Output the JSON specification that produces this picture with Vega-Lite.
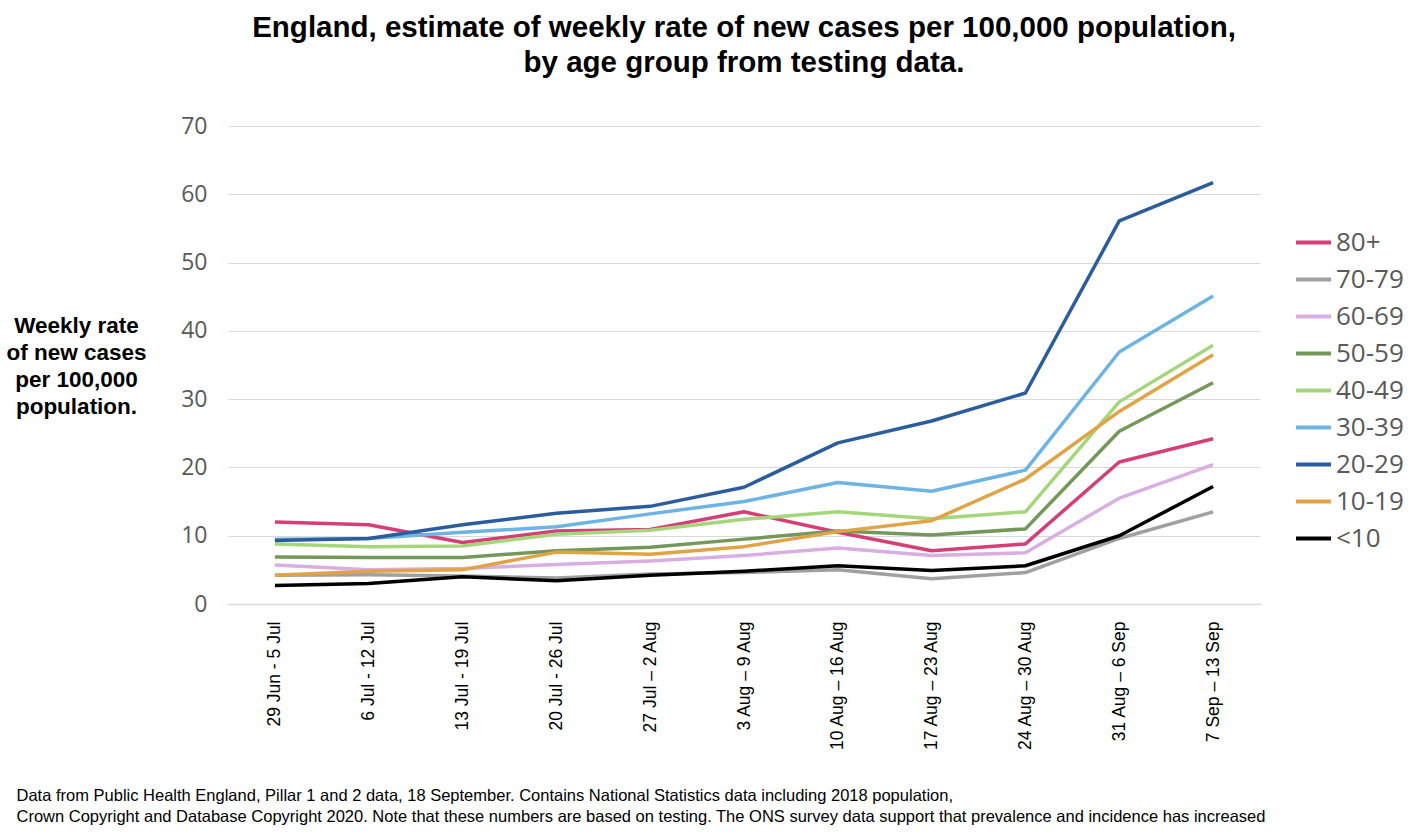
{
  "$schema": "https://vega.github.io/schema/vega-lite/v6.json",
  "autosize": "none",
  "width": 1032,
  "height": 478,
  "padding": {"left": 228, "top": 126, "right": 168, "bottom": 230},
  "background": "white",
  "config": {"view": {"stroke": null}},
  "title": {
    "text": ["England, estimate of weekly rate of new cases per 100,000 population,", "by age group from testing data."],
    "font": "Liberation Sans",
    "fontSize": 29.5,
    "fontWeight": "bold",
    "color": "#000000",
    "anchor": "middle",
    "lineHeight": 35,
    "offset": 37
  },
  "data": {"values": [
    {"w": "29 Jun - 5 Jul", "g": "80+", "v": 12.0},
    {"w": "6 Jul - 12 Jul", "g": "80+", "v": 11.6},
    {"w": "13 Jul - 19 Jul", "g": "80+", "v": 9.0},
    {"w": "20 Jul - 26 Jul", "g": "80+", "v": 10.7},
    {"w": "27 Jul – 2 Aug", "g": "80+", "v": 10.9},
    {"w": "3 Aug – 9 Aug", "g": "80+", "v": 13.5},
    {"w": "10 Aug – 16 Aug", "g": "80+", "v": 10.5},
    {"w": "17 Aug – 23 Aug", "g": "80+", "v": 7.8},
    {"w": "24 Aug – 30 Aug", "g": "80+", "v": 8.8},
    {"w": "31 Aug – 6 Sep", "g": "80+", "v": 20.8},
    {"w": "7 Sep – 13 Sep", "g": "80+", "v": 24.2},
    {"w": "29 Jun - 5 Jul", "g": "70-79", "v": 4.2},
    {"w": "6 Jul - 12 Jul", "g": "70-79", "v": 4.3},
    {"w": "13 Jul - 19 Jul", "g": "70-79", "v": 4.1},
    {"w": "20 Jul - 26 Jul", "g": "70-79", "v": 3.8},
    {"w": "27 Jul – 2 Aug", "g": "70-79", "v": 4.4},
    {"w": "3 Aug – 9 Aug", "g": "70-79", "v": 4.6},
    {"w": "10 Aug – 16 Aug", "g": "70-79", "v": 5.0},
    {"w": "17 Aug – 23 Aug", "g": "70-79", "v": 3.7},
    {"w": "24 Aug – 30 Aug", "g": "70-79", "v": 4.6},
    {"w": "31 Aug – 6 Sep", "g": "70-79", "v": 9.6},
    {"w": "7 Sep – 13 Sep", "g": "70-79", "v": 13.5},
    {"w": "29 Jun - 5 Jul", "g": "60-69", "v": 5.7},
    {"w": "6 Jul - 12 Jul", "g": "60-69", "v": 5.0},
    {"w": "13 Jul - 19 Jul", "g": "60-69", "v": 5.2},
    {"w": "20 Jul - 26 Jul", "g": "60-69", "v": 5.8},
    {"w": "27 Jul – 2 Aug", "g": "60-69", "v": 6.3},
    {"w": "3 Aug – 9 Aug", "g": "60-69", "v": 7.1},
    {"w": "10 Aug – 16 Aug", "g": "60-69", "v": 8.2},
    {"w": "17 Aug – 23 Aug", "g": "60-69", "v": 7.1},
    {"w": "24 Aug – 30 Aug", "g": "60-69", "v": 7.5},
    {"w": "31 Aug – 6 Sep", "g": "60-69", "v": 15.5},
    {"w": "7 Sep – 13 Sep", "g": "60-69", "v": 20.4},
    {"w": "29 Jun - 5 Jul", "g": "50-59", "v": 6.9},
    {"w": "6 Jul - 12 Jul", "g": "50-59", "v": 6.8},
    {"w": "13 Jul - 19 Jul", "g": "50-59", "v": 6.8},
    {"w": "20 Jul - 26 Jul", "g": "50-59", "v": 7.8},
    {"w": "27 Jul – 2 Aug", "g": "50-59", "v": 8.3},
    {"w": "3 Aug – 9 Aug", "g": "50-59", "v": 9.5},
    {"w": "10 Aug – 16 Aug", "g": "50-59", "v": 10.7},
    {"w": "17 Aug – 23 Aug", "g": "50-59", "v": 10.1},
    {"w": "24 Aug – 30 Aug", "g": "50-59", "v": 11.0},
    {"w": "31 Aug – 6 Sep", "g": "50-59", "v": 25.3},
    {"w": "7 Sep – 13 Sep", "g": "50-59", "v": 32.4},
    {"w": "29 Jun - 5 Jul", "g": "40-49", "v": 8.8},
    {"w": "6 Jul - 12 Jul", "g": "40-49", "v": 8.4},
    {"w": "13 Jul - 19 Jul", "g": "40-49", "v": 8.5},
    {"w": "20 Jul - 26 Jul", "g": "40-49", "v": 10.2},
    {"w": "27 Jul – 2 Aug", "g": "40-49", "v": 10.8},
    {"w": "3 Aug – 9 Aug", "g": "40-49", "v": 12.4},
    {"w": "10 Aug – 16 Aug", "g": "40-49", "v": 13.5},
    {"w": "17 Aug – 23 Aug", "g": "40-49", "v": 12.5},
    {"w": "24 Aug – 30 Aug", "g": "40-49", "v": 13.5},
    {"w": "31 Aug – 6 Sep", "g": "40-49", "v": 29.6},
    {"w": "7 Sep – 13 Sep", "g": "40-49", "v": 37.9},
    {"w": "29 Jun - 5 Jul", "g": "30-39", "v": 9.5},
    {"w": "6 Jul - 12 Jul", "g": "30-39", "v": 9.6},
    {"w": "13 Jul - 19 Jul", "g": "30-39", "v": 10.5},
    {"w": "20 Jul - 26 Jul", "g": "30-39", "v": 11.3},
    {"w": "27 Jul – 2 Aug", "g": "30-39", "v": 13.2},
    {"w": "3 Aug – 9 Aug", "g": "30-39", "v": 15.0},
    {"w": "10 Aug – 16 Aug", "g": "30-39", "v": 17.8},
    {"w": "17 Aug – 23 Aug", "g": "30-39", "v": 16.5},
    {"w": "24 Aug – 30 Aug", "g": "30-39", "v": 19.6},
    {"w": "31 Aug – 6 Sep", "g": "30-39", "v": 36.9},
    {"w": "7 Sep – 13 Sep", "g": "30-39", "v": 45.1},
    {"w": "29 Jun - 5 Jul", "g": "10-19", "v": 4.2},
    {"w": "6 Jul - 12 Jul", "g": "10-19", "v": 4.8},
    {"w": "13 Jul - 19 Jul", "g": "10-19", "v": 5.0},
    {"w": "20 Jul - 26 Jul", "g": "10-19", "v": 7.6},
    {"w": "27 Jul – 2 Aug", "g": "10-19", "v": 7.3},
    {"w": "3 Aug – 9 Aug", "g": "10-19", "v": 8.4},
    {"w": "10 Aug – 16 Aug", "g": "10-19", "v": 10.6},
    {"w": "17 Aug – 23 Aug", "g": "10-19", "v": 12.2},
    {"w": "24 Aug – 30 Aug", "g": "10-19", "v": 18.3},
    {"w": "31 Aug – 6 Sep", "g": "10-19", "v": 28.2},
    {"w": "7 Sep – 13 Sep", "g": "10-19", "v": 36.5},
    {"w": "29 Jun - 5 Jul", "g": "<10", "v": 2.7},
    {"w": "6 Jul - 12 Jul", "g": "<10", "v": 3.0},
    {"w": "13 Jul - 19 Jul", "g": "<10", "v": 4.0},
    {"w": "20 Jul - 26 Jul", "g": "<10", "v": 3.4},
    {"w": "27 Jul – 2 Aug", "g": "<10", "v": 4.2},
    {"w": "3 Aug – 9 Aug", "g": "<10", "v": 4.8},
    {"w": "10 Aug – 16 Aug", "g": "<10", "v": 5.6},
    {"w": "17 Aug – 23 Aug", "g": "<10", "v": 4.9},
    {"w": "24 Aug – 30 Aug", "g": "<10", "v": 5.6},
    {"w": "31 Aug – 6 Sep", "g": "<10", "v": 10.0},
    {"w": "7 Sep – 13 Sep", "g": "<10", "v": 17.2},
    {"w": "29 Jun - 5 Jul", "g": "20-29", "v": 9.3},
    {"w": "6 Jul - 12 Jul", "g": "20-29", "v": 9.6},
    {"w": "13 Jul - 19 Jul", "g": "20-29", "v": 11.6},
    {"w": "20 Jul - 26 Jul", "g": "20-29", "v": 13.3},
    {"w": "27 Jul – 2 Aug", "g": "20-29", "v": 14.3},
    {"w": "3 Aug – 9 Aug", "g": "20-29", "v": 17.1},
    {"w": "10 Aug – 16 Aug", "g": "20-29", "v": 23.6},
    {"w": "17 Aug – 23 Aug", "g": "20-29", "v": 26.8},
    {"w": "24 Aug – 30 Aug", "g": "20-29", "v": 30.9},
    {"w": "31 Aug – 6 Sep", "g": "20-29", "v": 56.1},
    {"w": "7 Sep – 13 Sep", "g": "20-29", "v": 61.7}
  ]},
  "mark": {"type": "line", "strokeWidth": 3.5, "strokeJoin": "round"},
  "encoding": {
    "x": {
      "field": "w",
      "type": "nominal",
      "sort": null,
      "scale": {"type": "point", "padding": 0.5},
      "axis": {
        "labelAngle": -90,
        "labelFont": "Liberation Sans",
        "labelFontSize": 17.5,
        "labelColor": "#000000",
        "labelPadding": 17,
        "ticks": false,
        "domain": true,
        "domainColor": "#D9D9D9",
        "domainWidth": 1.5,
        "grid": false,
        "title": ["Data from Public Health England, Pillar 1 and 2 data, 18 September.  Contains National Statistics data including 2018 population,", "Crown Copyright and Database Copyright 2020. Note that these numbers are based on testing. The ONS survey data support that prevalence and incidence has increased"],
        "titleFont": "Liberation Sans",
        "titleFontSize": 16.5,
        "titleFontWeight": "normal",
        "titleColor": "#000000",
        "titleLineHeight": 21,
        "titleAnchor": "start",
        "titleAlign": "left",
        "titleBaseline": "top",
        "titleAngle": 0,
        "titleX": -212,
        "titleY": 183
      }
    },
    "y": {
      "field": "v",
      "type": "quantitative",
      "scale": {"domain": [0, 70], "nice": false},
      "axis": {
        "values": [0, 10, 20, 30, 40, 50, 60, 70],
        "labelFont": "Open Sans",
        "labelFontSize": 23,
        "labelColor": "#595959",
        "labelPadding": 21,
        "ticks": false,
        "domain": false,
        "grid": true,
        "gridColor": "#D9D9D9",
        "gridWidth": 1.2,
        "title": ["Weekly rate", "of new cases", "per 100,000", "population."],
        "titleFont": "Liberation Sans",
        "titleFontSize": 22.5,
        "titleFontWeight": "bold",
        "titleColor": "#000000",
        "titleLineHeight": 27,
        "titleAngle": 0,
        "titleAlign": "center",
        "titleBaseline": "top",
        "titleX": -152,
        "titleY": 188
      }
    },
    "color": {
      "field": "g",
      "type": "nominal",
      "scale": {
        "domain": ["80+", "70-79", "60-69", "50-59", "40-49", "30-39", "20-29", "10-19", "<10"],
        "range": ["#D43F78", "#A0A0A0", "#D9AEE2", "#74975A", "#A5D67C", "#6DB4E4", "#2B5C9C", "#E0A346", "#000000"]
      },
      "legend": {
        "title": null,
        "orient": "none",
        "legendX": 1066,
        "legendY": 97,
        "symbolType": "stroke",
        "symbolSize": 1225,
        "symbolStrokeWidth": 4,
        "labelFont": "Open Sans",
        "labelFontSize": 26,
        "labelColor": "#595959",
        "labelOffset": 3,
        "rowPadding": 4
      }
    }
  }
}
